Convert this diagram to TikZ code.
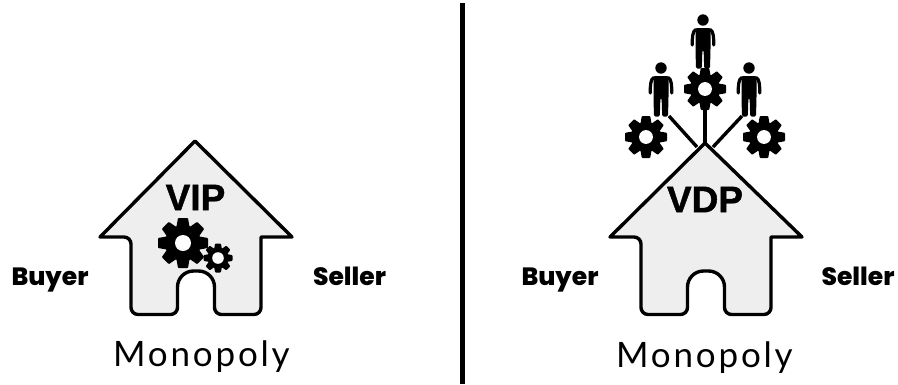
\documentclass[tikz,border=0pt]{standalone}
\usepackage{fontspec}
\setmainfont{Lato}
\newfontfamily\titlefont{Liberation Sans Bold}[FakeBold=1.2]
\newfontfamily\sidefont{Poppins ExtraBold}
\newfontfamily\marketfont{Lato}[LetterSpace=8]
\definecolor{houseg}{HTML}{EEEEEE}
\tikzset{
  housefill/.style={draw=black,fill=houseg,line width=3.4pt,line join=round,line cap=round},
  boldlabel/.style={font=\sidefont\fontsize{25}{27}\selectfont,inner sep=0pt},
  titlelabel/.style={font=\titlefont\fontsize{37}{40}\selectfont,inner sep=0pt},
  marketlabel/.style={font=\marketfont\fontsize{35}{38}\selectfont,inner sep=0pt},
  branch/.style={draw=black,line width=3.4pt}
}
\newcommand{\mygear}[5]{% name,x,y,R,hole
  \begin{scope}[shift={(#2,#3)},scale=#4]
    \foreach \a in {0,45,...,315}{
      \fill[black,rotate=\a,rounded corners=0.8pt] (-0.27,-0.6) -- (-0.2,-1) -- (0.2,-1) -- (0.27,-0.6) -- cycle;
    }
    \fill[black] (0,0) circle (0.72);
    \fill[white] (0,0) circle (#5);
  \end{scope}
  \coordinate (#1) at (#2,#3);
}
\newcommand{\myperson}[3]{% name,x,y head centre
  \begin{scope}[shift={(#2,#3)}]
    \fill[black] (0,0) circle (5.7);
    \fill[black,rounded corners=1.5pt] (-7.5,8.2) -- (7.5,8.2) -- (7.5,30) -- (7,48.5) -- (1.2,48.5) -- (0.6,30) -- (-0.6,30) -- (-1.2,48.5) -- (-7,48.5) -- (-7.5,30) -- cycle;
    \draw[black,line width=3.2pt,line cap=round,line join=round] (-7,9.5) .. controls (-10.5,10.5) and (-10.8,18) .. (-10.8,25);
    \draw[black,line width=3.2pt,line cap=round,line join=round] (7,9.5) .. controls (10.5,10.5) and (10.8,18) .. (10.8,25);
  \end{scope}
  \coordinate (#1) at (#2,#3);
}
\newcommand{\myhouse}[2]{% x offset, apex y
  \draw[housefill] (#1+195,#2) -- (#1+292,237) -- (#1+261,237)
    [rounded corners=7pt] -- (#1+261,314.5) -- (#1+214.5,314.5) [sharp corners]
    [rounded corners=16pt] -- (#1+214.5,271) -- (#1+177.5,271) [sharp corners]
    [rounded corners=7pt] -- (#1+177.5,314.5) -- (#1+131,314.5) -- (#1+131,237) [sharp corners]
    -- (#1+100,237) -- cycle;
}
\begin{document}
\begin{tikzpicture}[x=1pt,y=-1pt]
\useasboundingbox (0,0) rectangle (898,384);
\coordinate (divtop) at (462,3);
\coordinate (divbot) at (462,384);
\draw[line width=5pt] (divtop) -- (divbot);

\myhouse{0}{141}
\node[titlelabel] (vip) at (195.5,197.5) {VIP};
\mygear{g1}{183}{243}{25}{0.32}
\mygear{g2}{218}{258}{14.5}{0.4}
\node[boldlabel,anchor=base] (b1) at (50,285) {Buyer};
\node[boldlabel,anchor=base] (s1) at (349.5,285) {Seller};
\node[marketlabel,anchor=base] (m1) at (201.5,366.5) {Monopoly};

\coordinate (g3b) at (705,104);
\mygear{g3}{705}{89}{21}{0.33}
\mygear{g4}{646}{137}{21}{0.33}
\mygear{g5}{764}{137}{21}{0.33}
\myperson{p1}{703}{20}
\myperson{p2}{661}{68}
\myperson{p3}{749}{68}
\coordinate (l1) at (669,116);
\coordinate (l2) at (742,116);
\coordinate (a1) at (697,147);
\coordinate (a2) at (713,147);
\coordinate (a3) at (705,143);
\draw[branch] (l1) -- (a1);
\draw[branch] (l2) -- (a2);
\draw[branch] (g3b) -- (a3);
\myhouse{510}{143}
\node[titlelabel] (vdp) at (705,199.5) {VDP};
\node[boldlabel,anchor=base] (b2) at (560,285) {Buyer};
\node[boldlabel,anchor=base] (s2) at (858,285) {Seller};
\node[marketlabel,anchor=base] (m2) at (704.5,367) {Monopoly};
\end{tikzpicture}
\end{document}
